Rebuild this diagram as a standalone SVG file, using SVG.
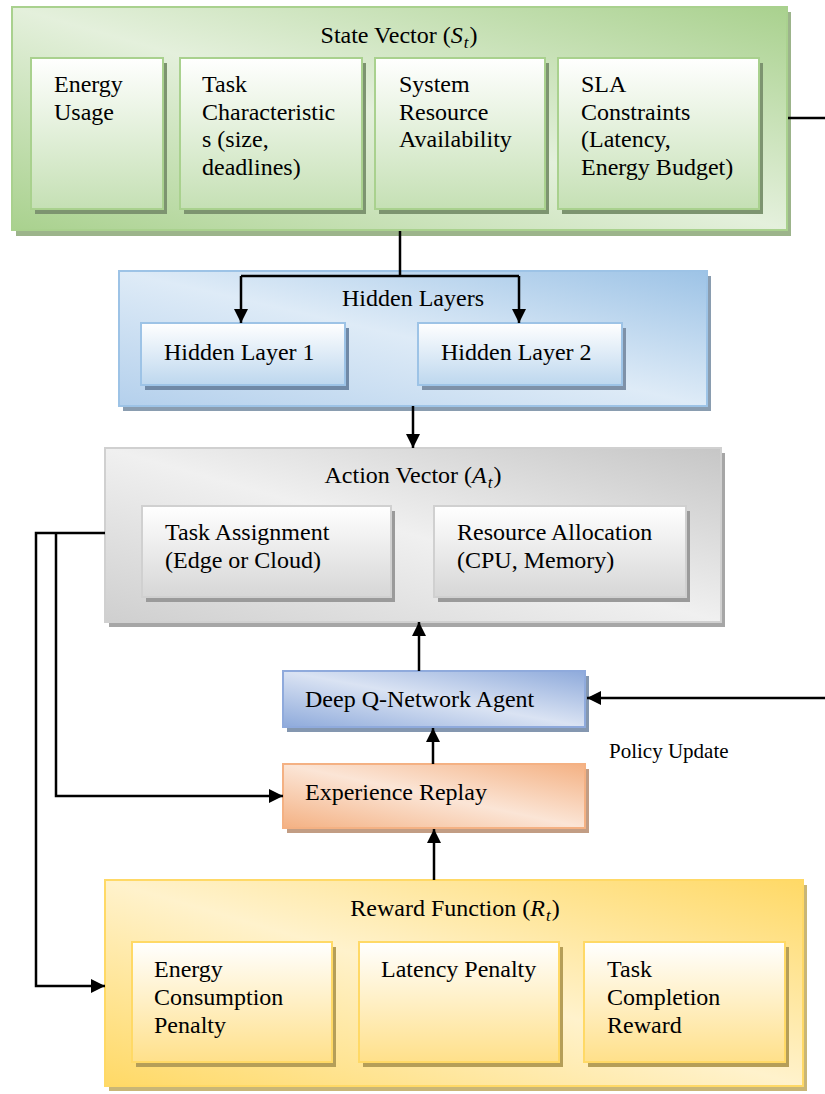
<svg xmlns="http://www.w3.org/2000/svg" width="825" height="1094" viewBox="0 0 825 1094">
  <style>
    .t { font-family: "Liberation Serif", "Times New Roman", serif; font-size: 24px; fill: #000; }
    .pu { font-family: "Liberation Serif", "Times New Roman", serif; font-size: 21px; fill: #000; }
    .mi { font-style: italic; }
    .sub { font-style: italic; font-size: 17px; }
    .wire { fill: none; stroke: #000; stroke-width: 2.5; }
    .arrow { fill: none; stroke: #000; stroke-width: 2.5; marker-end: url(#head); }
  </style>
  <defs>
    <marker id="head" viewBox="0 0 10 10" refX="10" refY="5" markerWidth="15" markerHeight="14" markerUnits="userSpaceOnUse" orient="auto">
      <path d="M0,0 L10,5 L0,10 z" fill="#000"/>
    </marker>
    <!-- outer panels: dark corners top-right / bottom-left, light diagonal band -->
    <linearGradient id="gGreen" x1="1" y1="0" x2="0" y2="1">
      <stop offset="0" stop-color="#a9d18e"/>
      <stop offset="0.5" stop-color="#e4f0dc"/>
      <stop offset="1" stop-color="#a9d18e"/>
    </linearGradient>
    <linearGradient id="gBlue" x1="1" y1="0" x2="0" y2="1">
      <stop offset="0" stop-color="#9dc3e6"/>
      <stop offset="0.5" stop-color="#deebf7"/>
      <stop offset="1" stop-color="#b4d0ec"/>
    </linearGradient>
    <linearGradient id="gGrey" x1="1" y1="0" x2="0" y2="1">
      <stop offset="0" stop-color="#c6c6c6"/>
      <stop offset="0.5" stop-color="#f0f0f0"/>
      <stop offset="1" stop-color="#cfcfcf"/>
    </linearGradient>
    <linearGradient id="gYellow" x1="1" y1="0" x2="0" y2="1">
      <stop offset="0" stop-color="#ffd966"/>
      <stop offset="0.5" stop-color="#fff2cc"/>
      <stop offset="1" stop-color="#ffd966"/>
    </linearGradient>
    <linearGradient id="gAgent" x1="1" y1="0" x2="0" y2="1">
      <stop offset="0" stop-color="#8eaadb"/>
      <stop offset="0.5" stop-color="#dae3f3"/>
      <stop offset="1" stop-color="#8eaadb"/>
    </linearGradient>
    <linearGradient id="gOrange" x1="1" y1="0" x2="0" y2="1">
      <stop offset="0" stop-color="#f4b183"/>
      <stop offset="0.5" stop-color="#fbe5d6"/>
      <stop offset="1" stop-color="#f4b183"/>
    </linearGradient>
    <!-- inner cells: white top fading to tint -->
    <linearGradient id="iGreen" x1="0" y1="0" x2="0" y2="1">
      <stop offset="0" stop-color="#ffffff"/>
      <stop offset="1" stop-color="#c5e0b4"/>
    </linearGradient>
    <linearGradient id="iBlue" x1="0" y1="0" x2="0" y2="1">
      <stop offset="0" stop-color="#ffffff"/>
      <stop offset="1" stop-color="#bdd7ee"/>
    </linearGradient>
    <linearGradient id="iGrey" x1="0" y1="0" x2="0" y2="1">
      <stop offset="0" stop-color="#ffffff"/>
      <stop offset="1" stop-color="#d6d6d6"/>
    </linearGradient>
    <linearGradient id="iYellow" x1="0" y1="0" x2="0" y2="1">
      <stop offset="0" stop-color="#ffffff"/>
      <stop offset="1" stop-color="#ffe08a"/>
    </linearGradient>
  </defs>

  <!-- State vector panel -->
  <g id="state-vector">
    <rect x="16" y="12" width="775" height="224" fill="#9cb48b"/>
    <rect x="12" y="7" width="775" height="223" fill="url(#gGreen)" stroke="#a9d18e" stroke-width="2"/>
    <text class="t" x="399" y="43" text-anchor="middle">State Vector (<tspan class="mi">S</tspan><tspan class="sub" dx="1" dy="5">t</tspan><tspan dx="1" dy="-5">)</tspan></text>
  </g>
  <g id="energy-usage">
    <rect x="35" y="63" width="132" height="151" fill="#7d9470"/>
    <rect x="31" y="58" width="132" height="151" fill="url(#iGreen)" stroke="#a9d18e" stroke-width="2"/>
    <text class="t" x="54" y="92">Energy</text>
    <text class="t" x="54" y="120">Usage</text>
  </g>
  <g id="task-characteristics">
    <rect x="184" y="63" width="182" height="151" fill="#7d9470"/>
    <rect x="180" y="58" width="182" height="151" fill="url(#iGreen)" stroke="#a9d18e" stroke-width="2"/>
    <text class="t" x="202" y="92">Task</text>
    <text class="t" x="202" y="120">Characteristic</text>
    <text class="t" x="202" y="147">s (size,</text>
    <text class="t" x="202" y="175">deadlines)</text>
  </g>
  <g id="system-resource">
    <rect x="379" y="63" width="170" height="151" fill="#7d9470"/>
    <rect x="375" y="58" width="170" height="151" fill="url(#iGreen)" stroke="#a9d18e" stroke-width="2"/>
    <text class="t" x="399" y="92">System</text>
    <text class="t" x="399" y="120">Resource</text>
    <text class="t" x="399" y="147">Availability</text>
  </g>
  <g id="sla-constraints">
    <rect x="562" y="63" width="201" height="151" fill="#7d9470"/>
    <rect x="558" y="58" width="201" height="151" fill="url(#iGreen)" stroke="#a9d18e" stroke-width="2"/>
    <text class="t" x="581" y="92">SLA</text>
    <text class="t" x="581" y="120">Constraints</text>
    <text class="t" x="581" y="147">(Latency,</text>
    <text class="t" x="581" y="175">Energy Budget)</text>
  </g>

  <!-- Hidden layers panel -->
  <g id="hidden-layers">
    <rect x="123" y="276" width="588" height="135" fill="#8a9db0"/>
    <rect x="119" y="271" width="588" height="135" fill="url(#gBlue)" stroke="#9dc3e6" stroke-width="2"/>
    <text class="t" x="413" y="306" text-anchor="middle">Hidden Layers</text>
  </g>
  <g id="hidden-layer-1">
    <rect x="145" y="328" width="204" height="62" fill="#7089a6"/>
    <rect x="141" y="323" width="204" height="62" fill="url(#iBlue)" stroke="#9dc3e6" stroke-width="2"/>
    <text class="t" x="164" y="360">Hidden Layer 1</text>
  </g>
  <g id="hidden-layer-2">
    <rect x="422" y="328" width="204" height="62" fill="#7e91a8"/>
    <rect x="418" y="323" width="204" height="62" fill="url(#iBlue)" stroke="#9dc3e6" stroke-width="2"/>
    <text class="t" x="441" y="360">Hidden Layer 2</text>
  </g>

  <!-- Action vector panel -->
  <g id="action-vector">
    <rect x="109" y="453" width="616" height="174" fill="#a6a6a6"/>
    <rect x="105" y="448" width="616" height="174" fill="url(#gGrey)" stroke="#d0d0d0" stroke-width="2"/>
    <text class="t" x="413" y="483" text-anchor="middle">Action Vector (<tspan class="mi">A</tspan><tspan class="sub" dx="1" dy="5">t</tspan><tspan dx="1" dy="-5">)</tspan></text>
  </g>
  <g id="task-assignment">
    <rect x="146" y="511" width="249" height="91" fill="#9a9a9a"/>
    <rect x="142" y="506" width="249" height="91" fill="url(#iGrey)" stroke="#d0d0d0" stroke-width="2"/>
    <text class="t" x="165" y="540">Task Assignment</text>
    <text class="t" x="165" y="568">(Edge or Cloud)</text>
  </g>
  <g id="resource-allocation">
    <rect x="438" y="511" width="252" height="91" fill="#9a9a9a"/>
    <rect x="434" y="506" width="252" height="91" fill="url(#iGrey)" stroke="#d0d0d0" stroke-width="2"/>
    <text class="t" x="457" y="540">Resource Allocation</text>
    <text class="t" x="457" y="568">(CPU, Memory)</text>
  </g>

  <!-- Agent and replay -->
  <g id="dqn-agent">
    <rect x="287" y="676" width="302" height="56" fill="#8497b0"/>
    <rect x="283" y="671" width="302" height="56" fill="url(#gAgent)" stroke="#8faadc" stroke-width="2"/>
    <text class="t" x="305" y="707">Deep Q-Network Agent</text>
  </g>
  <g id="experience-replay">
    <rect x="287" y="769" width="302" height="64" fill="#c29d84"/>
    <rect x="283" y="764" width="302" height="64" fill="url(#gOrange)" stroke="#f4b183" stroke-width="2"/>
    <text class="t" x="305" y="800">Experience Replay</text>
  </g>
  <g id="policy-update-label">
    <text class="pu" x="609" y="758">Policy Update</text>
  </g>

  <!-- Reward function panel -->
  <g id="reward-function">
    <rect x="109" y="885" width="698" height="206" fill="#c9b676"/>
    <rect x="105" y="880" width="698" height="206" fill="url(#gYellow)" stroke="#ffd966" stroke-width="2"/>
    <text class="t" x="455" y="916" text-anchor="middle">Reward Function (<tspan class="mi">R</tspan><tspan class="sub" dx="1" dy="5">t</tspan><tspan dx="1" dy="-5">)</tspan></text>
  </g>
  <g id="energy-penalty">
    <rect x="136" y="947" width="200" height="120" fill="#b59e58"/>
    <rect x="132" y="942" width="200" height="120" fill="url(#iYellow)" stroke="#ffd966" stroke-width="2"/>
    <text class="t" x="154" y="977">Energy</text>
    <text class="t" x="154" y="1005">Consumption</text>
    <text class="t" x="154" y="1033">Penalty</text>
  </g>
  <g id="latency-penalty">
    <rect x="363" y="947" width="200" height="120" fill="#b59e58"/>
    <rect x="359" y="942" width="200" height="120" fill="url(#iYellow)" stroke="#ffd966" stroke-width="2"/>
    <text class="t" x="381" y="977">Latency Penalty</text>
  </g>
  <g id="completion-reward">
    <rect x="588" y="947" width="201" height="120" fill="#b59e58"/>
    <rect x="584" y="942" width="201" height="120" fill="url(#iYellow)" stroke="#ffd966" stroke-width="2"/>
    <text class="t" x="607" y="977">Task</text>
    <text class="t" x="607" y="1005">Completion</text>
    <text class="t" x="607" y="1033">Reward</text>
  </g>

  <!-- Connectors -->
  <g id="connectors">
    <path class="wire" d="M400,231 V276"/>
    <path class="wire" d="M241,276 H519"/>
    <path class="arrow" d="M241,276 V323"/>
    <path class="arrow" d="M519,276 V323"/>
    <path class="arrow" d="M413,406 V448"/>
    <path class="arrow" d="M419,671 V622"/>
    <path class="arrow" d="M433,764 V728"/>
    <path class="arrow" d="M434,880 V829"/>
    <path class="wire" d="M788,118 H825"/>
    <path class="arrow" d="M825,698 H587"/>
    <path class="arrow" d="M105,533 H36 V986 H105"/>
    <path class="arrow" d="M56,533 V796 H283"/>
  </g>
</svg>
